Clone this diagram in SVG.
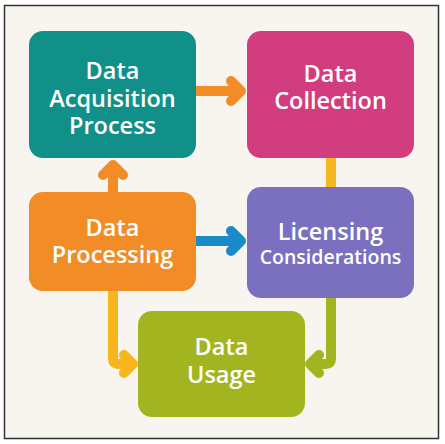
<svg xmlns="http://www.w3.org/2000/svg" width="445" height="444" viewBox="0 0 445 444">
<defs>
<style>
.t{font-family:"Open Sans","Liberation Sans",sans-serif;font-weight:600;fill:#fff;text-anchor:middle;font-size:23.5px}
.s{font-size:19.5px}
.c{fill:none;stroke-width:10;stroke-linecap:round;stroke-linejoin:round}
</style>
</defs>
<rect x="0" y="0" width="445" height="444" fill="#ffffff"/>
<rect x="4.5" y="5.5" width="434" height="433" fill="#f8f4f0" stroke="#333" stroke-width="1.5"/>
<g id="connectors">
<path class="c" stroke="#f28c26" d="M196 91H240M231 81L241 91L231 101"/>
<path class="c" stroke="#f28c26" d="M113 192V167M103 175L113 165L123 175"/>
<path class="c" stroke="#f5b820" stroke-linecap="butt" d="M331 158V187"/>
<path class="c" stroke="#1a8ac8" d="M196 241H240M231 231L241 241L231 251"/>
<path class="c" stroke="#f7b51e" d="M113 291V359Q113 364 118 364H131M124 355L133 364L124 373"/>
<path class="c" stroke="#a2b520" d="M331 298V359Q331 364 326 364H312M319 355L310 364L319 373"/>
</g>
<g id="acq">
<rect x="29" y="31" width="167" height="127" rx="14" fill="#11908a"/>
<text class="t" x="112.5" y="79">Data</text>
<text class="t" x="112.5" y="107">Acquisition</text>
<text class="t" x="112.5" y="134">Process</text>
</g>
<g id="coll">
<rect x="247" y="31" width="167" height="127" rx="14" fill="#d13d7e"/>
<text class="t" x="330.5" y="82">Data</text>
<text class="t" x="330.5" y="109">Collection</text>
</g>
<g id="proc">
<rect x="29" y="192" width="167" height="99" rx="14" fill="#f28c26"/>
<text class="t" x="112.5" y="236">Data</text>
<text class="t" x="112.5" y="263">Processing</text>
</g>
<g id="lic">
<rect x="247" y="187" width="167" height="111" rx="14" fill="#7b6fbf"/>
<text class="t" x="330.5" y="240">Licensing</text>
<text class="t s" x="330.5" y="264">Considerations</text>
</g>
<g id="usage">
<rect x="138" y="311" width="167" height="106" rx="14" fill="#a2b520"/>
<text class="t" x="221.5" y="355">Data</text>
<text class="t" x="221.5" y="383">Usage</text>
</g>
</svg>
